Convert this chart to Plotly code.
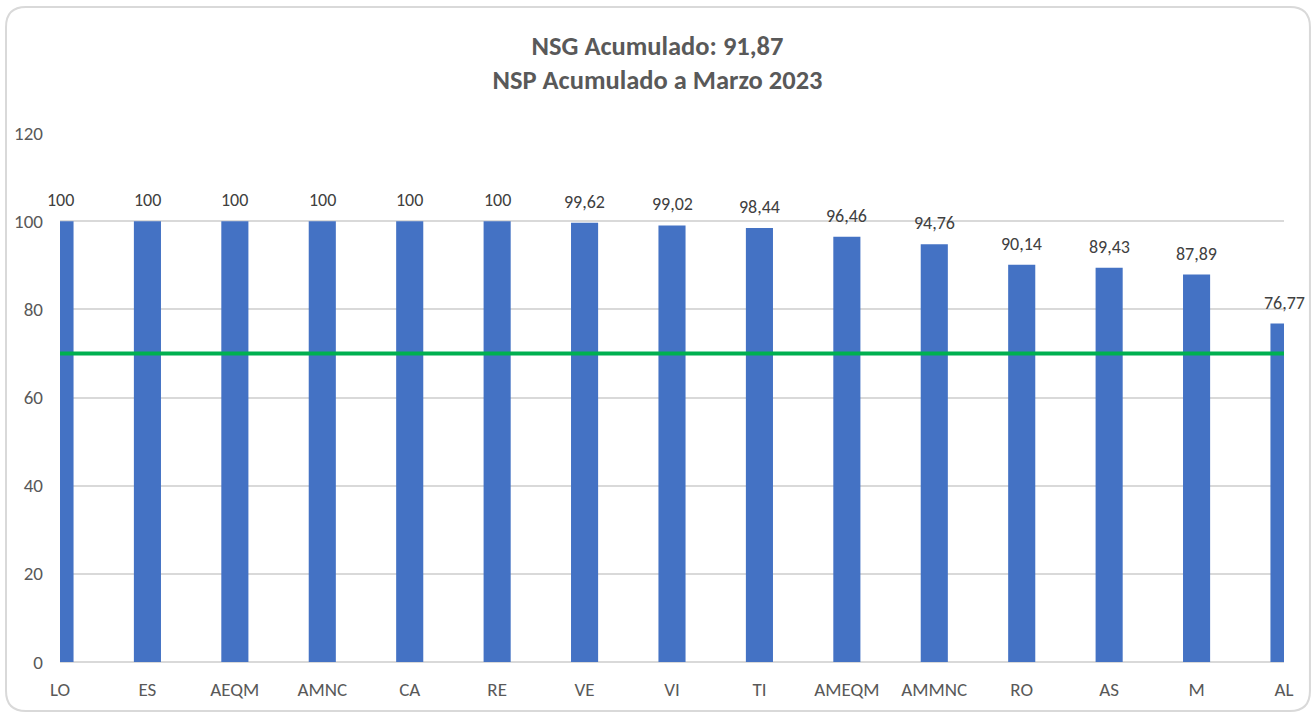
import plotly.graph_objects as go

categories = ["LO", "ES", "AEQM", "AMNC", "CA", "RE", "VE", "VI", "TI", "AMEQM", "AMMNC", "RO", "AS", "M", "AL"]
values = [100, 100, 100, 100, 100, 100, 99.62, 99.02, 98.44, 96.46, 94.76, 90.14, 89.43, 87.89, 76.77]
meta = [70] * len(categories)
y_ticks = [0, 20, 40, 60, 80, 100, 120]

FONT = "Carlito, Liberation Sans Narrow, Roboto, sans-serif"

def fmt(v):
    s = f"{v:.2f}".rstrip("0").rstrip(".")
    return s.replace(".", ",")

fig = go.Figure()
fig.add_trace(go.Bar(x=categories, y=values, marker=dict(color="#4472C4", line=dict(width=0)),
                     width=0.31, showlegend=False, hoverinfo="x+y"))
fig.add_trace(go.Scatter(x=categories, y=meta, mode="lines", line=dict(color="#00B050", width=4),
                         showlegend=False))

for c, v in zip(categories, values):
    fig.add_annotation(x=c, y=v, text=fmt(v), showarrow=False, yanchor="bottom", yshift=8,
                       font=dict(family=FONT, size=18, color="#404040"))

# rounded border (paper coords relative to plot area 60..1284 x 133..662)
x0, x1, y0, y1 = -0.0441, 1.0212, -0.0926, 1.238
rx, ry = 0.0163, 0.0378
border = (f"M {x0},{y1-ry} L {x0},{y0+ry} Q {x0},{y0} {x0+rx},{y0} L {x1-rx},{y0} "
          f"Q {x1},{y0} {x1},{y0+ry} L {x1},{y1-ry} Q {x1},{y1} {x1-rx},{y1} "
          f"L {x0+rx},{y1} Q {x0},{y1} {x0},{y1-ry} Z")

fig.update_layout(
    width=1315, height=715,
    paper_bgcolor="white", plot_bgcolor="white",
    margin=dict(l=60, r=31, t=133, b=53),
    title=dict(text="<b>NSG Acumulado: 91,87<br>NSP Acumulado a Marzo 2023</b>",
               x=0.5, xanchor="center", y=1 - 55 / 715, yanchor="top",
               font=dict(family=FONT, size=26.5, color="#595959")),
    xaxis=dict(type="category", range=[0, len(categories) - 1], showgrid=False, zeroline=False,
               showline=False, ticks="", ticklabelstandoff=14,
               tickfont=dict(family=FONT, size=19, color="#595959")),
    yaxis=dict(range=[0, 120], tickvals=y_ticks, showgrid=True, gridcolor="#D9D9D9", gridwidth=1.5,
               zeroline=True, zerolinecolor="#D9D9D9", zerolinewidth=1.5, showline=False, ticks="",
               ticklabelstandoff=16, tickfont=dict(family=FONT, size=19, color="#595959")),
    shapes=[dict(type="path", xref="paper", yref="paper", layer="below", path=border,
                 line=dict(color="#D9D9D9", width=2))],
)

fig.write_html("out.html", config={"displayModeBar": False},
               post_script="document.body.style.margin='0px';")
